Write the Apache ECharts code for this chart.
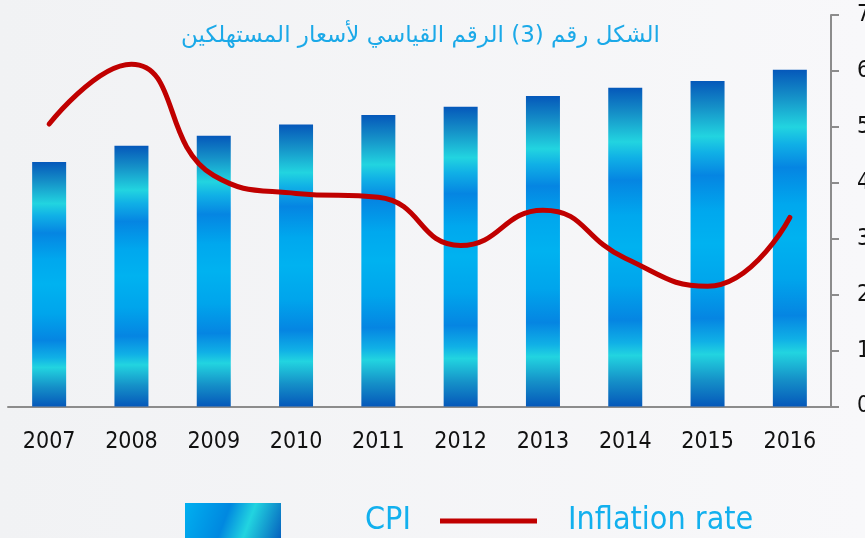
<!DOCTYPE html>
<html>
<head>
<meta charset="utf-8">
<script src="https://cdn.jsdelivr.net/npm/echarts@6/dist/echarts.min.js"></script>
<style>
  html, body { margin: 0; padding: 0; background: #f3f4f6; }
  #chart { width: 865px; height: 538px; }
</style>
</head>
<body>
<div id="chart"></div>
<script>
// data
var years = ['2007', '2008', '2009', '2010', '2011', '2012', '2013', '2014', '2015', '2016'];
var cpi = [4.37, 4.66, 4.84, 5.04, 5.21, 5.36, 5.55, 5.70, 5.82, 6.02];
var inflation = [5.05, 6.12, 4.13, 3.81, 3.74, 2.88, 3.51, 2.65, 2.15, 3.38];
var yTicks = [0, 1, 2, 3, 4, 5, 6, 7];

var chart = echarts.init(document.getElementById('chart'));

var narrow = '"DejaVu Sans Condensed", "DejaVu Sans", sans-serif';

// striped blue fill of the bars
var barFill = new echarts.graphic.LinearGradient(0, 0, 0, 1, [
  {offset: 0, color: '#0558ba'},
  {offset: 0.08, color: '#1590c8'},
  {offset: 0.17, color: '#22d4e0'},
  {offset: 0.22, color: '#10b0e6'},
  {offset: 0.29, color: '#0585e2'},
  {offset: 0.40, color: '#00a8ee'},
  {offset: 0.50, color: '#00b2f0'},
  {offset: 0.62, color: '#00a5ec'},
  {offset: 0.73, color: '#0585e2'},
  {offset: 0.80, color: '#10b0e6'},
  {offset: 0.84, color: '#22d4e0'},
  {offset: 0.92, color: '#1590c8'},
  {offset: 1, color: '#0558ba'}
]);

var legendFill = new echarts.graphic.LinearGradient(0, 0, 1, 1, [
  {offset: 0, color: '#00b0f0'},
  {offset: 0.42, color: '#0088e0'},
  {offset: 0.65, color: '#22d4e0'},
  {offset: 1, color: '#0560be'}
]);

var axisGray = '#8c8c8c';

chart.setOption({
  backgroundColor: new echarts.graphic.LinearGradient(0, 0, 1, 0, [
    {offset: 0, color: '#f1f2f4'},
    {offset: 1, color: '#f8f8fa'}
  ]),
  animation: false,
  title: {
    text: 'الشكل رقم (3) الرقم القياسي لأسعار المستهلكين',
    left: 176,
    top: 20,
    textStyle: {
      fontFamily: 'DejaVu Sans',
      fontSize: 23,
      fontWeight: 'normal',
      color: '#1ba9e8'
    }
  },
  legend: [{
    left: 180,
    top: 496,
    itemWidth: 96,
    itemHeight: 36,
    icon: 'rect',
    data: [{name: 'CPI', itemStyle: {color: legendFill}}],
    textStyle: {
      fontFamily: narrow,
      fontSize: 32,
      lineHeight: 40,
      color: '#12b0ee',
      padding: [0, 0, 0, 79]
    }
  }, {
    left: 435,
    top: 496,
    itemWidth: 97,
    itemHeight: 5,
    icon: 'rect',
    data: [{name: 'Inflation rate', itemStyle: {color: '#c00000'}}],
    textStyle: {
      fontFamily: narrow,
      fontSize: 32,
      lineHeight: 40,
      color: '#12b0ee',
      padding: [0, 0, 0, 26]
    }
  }],
  grid: {
    left: 8,
    right: 34,
    top: 15,
    bottom: 131.5,
    outerBoundsMode: 'none'
  },
  xAxis: [{
    type: 'category',
    data: years,
    boundaryGap: true,
    axisLine: {lineStyle: {color: axisGray, width: 2}},
    axisTick: {inside: true, length: 8, lineStyle: {color: axisGray, width: 2}},
    axisLabel: {
      margin: 24,
      fontFamily: narrow,
      fontSize: 23,
      color: '#111'
    }
  }, {
    // second axis only for the ticks under each bar
    type: 'category',
    data: years,
    position: 'bottom',
    axisLine: {show: false},
    axisTick: {alignWithLabel: true, inside: true, length: 8, lineStyle: {color: axisGray, width: 2}},
    axisLabel: {show: false}
  }],
  yAxis: {
    type: 'value',
    position: 'right',
    min: yTicks[0],
    max: yTicks[yTicks.length - 1],
    interval: 1,
    axisLine: {show: true, lineStyle: {color: axisGray, width: 2}},
    axisTick: {show: true, length: 8, lineStyle: {color: axisGray, width: 2}},
    splitLine: {show: false},
    axisLabel: {
      margin: 26,
      fontFamily: narrow,
      fontSize: 23,
      color: '#111'
    }
  },
  series: [{
    name: 'CPI',
    type: 'bar',
    xAxisIndex: 0,
    barWidth: 34,
    itemStyle: {color: barFill},
    data: cpi
  }, {
    name: 'Inflation rate',
    type: 'line',
    xAxisIndex: 0,
    smooth: 0.5,
    symbol: 'none',
    lineStyle: {color: '#c00000', width: 5, cap: 'round'},
    itemStyle: {color: '#c00000'},
    data: inflation
  }]
});
</script>
</body>
</html>
